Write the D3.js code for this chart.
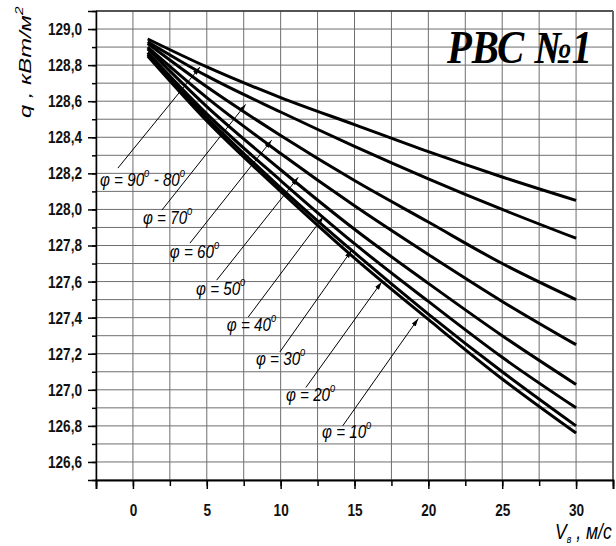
<!DOCTYPE html>
<html>
<head>
<meta charset="utf-8">
<script src="https://cdn.jsdelivr.net/npm/d3@7"></script>
<style>
  body { margin: 0; background: #fff; }
  svg { display: block; }
  .tick text { font-family: "Liberation Sans", Arial, sans-serif; font-weight: bold; font-size: 17px; fill: #111; }
</style>
</head>
<body>
<svg width="616" height="546"></svg>
<script>
// wind speed, m/s
var speed = [1, 5, 10, 15, 20, 25, 30];

// heat flux q, kW/m2, one array per angle phi
var q90_80 = [128.945, 128.79, 128.62, 128.47, 128.32, 128.18, 128.05];
var q70 = [128.93, 128.74, 128.54, 128.35, 128.17, 128.00, 127.84];
var q60 = [128.92, 128.68, 128.41, 128.16, 127.93, 127.70, 127.50];
var q50 = [128.90, 128.62, 128.31, 128.02, 127.75, 127.49, 127.25];
var q40 = [128.89, 128.57, 128.22, 127.89, 127.59, 127.30, 127.03];
var q30 = [128.87, 128.53, 128.16, 127.81, 127.49, 127.18, 126.90];
var q20 = [128.86, 128.51, 128.12, 127.76, 127.42, 127.10, 126.80];
var q10 = [128.85, 128.49, 128.10, 127.73, 127.39, 127.06, 126.76];

// labels: angle text, text position, leader tail and arrow tip (data units)
var angles = [[90, 80], [70], [60], [50], [40], [30], [20], [10]];
var labelPos = [[-2.23, 128.13], [0.68, 127.92], [2.50, 127.73], [4.27, 127.525],
                [6.36, 127.325], [8.33, 127.137], [10.36, 126.937], [12.80, 126.732]];
var tailPos = [[-1.02, 128.229], [1.96, 127.996], [3.86, 127.813], [5.67, 127.608],
               [7.81, 127.404], [9.95, 127.21], [11.71, 127.013], [14.2, 126.80]];
var tipPos = [[4.54, 128.789], [7.63, 128.582], [9.39, 128.384], [11.19, 128.178],
              [12.89, 127.959], [14.81, 127.774], [16.84, 127.598], [19.32, 127.395]];

var xTicks = [0, 5, 10, 15, 20, 25, 30];
var yTicks = [126.6, 126.8, 127.0, 127.2, 127.4, 127.6, 127.8, 128.0, 128.2, 128.4, 128.6, 128.8, 129.0];

var series = [q90_80, q70, q60, q50, q40, q30, q20, q10];

var svg = d3.select("svg"),
    margin = {top: 11, right: 3, bottom: 66, left: 96},
    width = +svg.attr("width") - margin.left - margin.right,
    height = +svg.attr("height") - margin.top - margin.bottom,
    g = svg.append("g").attr("transform", "translate(" + margin.left + "," + margin.top + ")");

var x = d3.scaleLinear().domain([-2.5, 32.5]).range([0, width]);
var y = d3.scaleLinear().domain([126.5, 129.1]).range([height, 0]);

var xMinor = d3.range(0, 15).map(function(i) { return -2.5 + i * 2.5; });
var yMinor = d3.range(0, 27).map(function(i) { return +(126.5 + i * 0.1).toFixed(1); });

var squeeze = 0.8;

// grid
g.append("g").selectAll("line").data(xMinor).enter().append("line")
    .attr("x1", function(d) { return x(d); }).attr("x2", function(d) { return x(d); })
    .attr("y1", 0).attr("y2", height)
    .attr("stroke", "#6e6e6e").attr("stroke-width", 1);
g.append("g").selectAll("line").data(yMinor).enter().append("line")
    .attr("y1", function(d) { return y(d); }).attr("y2", function(d) { return y(d); })
    .attr("x1", 0).attr("x2", width)
    .attr("stroke", "#6e6e6e").attr("stroke-width", 1);

// frame
g.append("line").attr("x1", 0).attr("x2", width).attr("y1", 0).attr("y2", 0)
    .attr("stroke", "#333").attr("stroke-width", 1.5);
g.append("line").attr("x1", width).attr("x2", width).attr("y1", 0).attr("y2", height)
    .attr("stroke", "#666").attr("stroke-width", 2);

var fmt = function(d) { return d3.format(".1f")(d).replace(".", ","); };

// y axis
g.append("g")
    .call(d3.axisLeft(y).tickValues(yMinor).tickSize(4).tickFormat(""))
    .call(function(a) { a.select(".domain").remove(); })
    .selectAll("line").attr("stroke-width", 1.5);
var yAx = g.append("g")
    .call(d3.axisLeft(y).tickValues(yTicks).tickSize(8).tickPadding(6).tickFormat(fmt))
    .call(function(a) { a.select(".domain").attr("stroke-width", 1.5); });
yAx.selectAll("line").attr("stroke-width", 1.5);
yAx.selectAll("text")
    .attr("x", -14 / squeeze)
    .attr("transform", "scale(" + squeeze + ",1)");

// x axis
g.append("g")
    .attr("transform", "translate(0," + height + ")")
    .call(d3.axisBottom(x).tickValues(xMinor).tickSize(6).tickFormat(""))
    .call(function(a) { a.select(".domain").remove(); })
    .selectAll("line").attr("stroke-width", 1.5);
var xAx = g.append("g")
    .attr("transform", "translate(0," + height + ")")
    .call(d3.axisBottom(x).tickValues(xTicks).tickSize(9).tickPadding(15))
    .call(function(a) { a.select(".domain").attr("stroke-width", 2); });
xAx.selectAll("line").attr("stroke-width", 1.5);
xAx.selectAll("text").attr("transform", "scale(" + squeeze + ",1)");

// curves
var line = d3.line()
    .x(function(d, i) { return x(speed[i]); })
    .y(function(d) { return y(d); })
    .curve(d3.curveMonotoneX);

g.append("g").selectAll("path").data(series).enter().append("path")
    .attr("fill", "none")
    .attr("stroke", "#000")
    .attr("stroke-width", 3)
    .attr("stroke-linejoin", "round")
    .attr("d", line);

// arrows
svg.append("defs").append("marker")
    .attr("id", "arr")
    .attr("viewBox", "0 0 10 6")
    .attr("refX", 10).attr("refY", 3)
    .attr("markerWidth", 8).attr("markerHeight", 5)
    .attr("markerUnits", "userSpaceOnUse")
    .attr("orient", "auto")
    .append("path").attr("d", "M0,0L10,3L0,6Z").attr("fill", "#000");

g.append("g").selectAll("line").data(tailPos).enter().append("line")
    .attr("x1", function(d) { return x(d[0]); })
    .attr("y1", function(d) { return y(d[1]); })
    .attr("x2", function(d, i) { return x(tipPos[i][0]); })
    .attr("y2", function(d, i) { return y(tipPos[i][1]); })
    .attr("stroke", "#000").attr("stroke-width", 1)
    .attr("marker-end", "url(#arr)");

// phi labels
var labels = g.append("g").selectAll("text").data(angles).enter().append("text")
    .attr("transform", function(d, i) {
        return "translate(" + x(labelPos[i][0]) + "," + y(labelPos[i][1]) + ") scale(" + squeeze + ",1)";
    })
    .attr("font-family", "'Liberation Sans', Arial, sans-serif")
    .attr("font-style", "italic")
    .attr("font-size", 19)
    .attr("fill", "#000");

labels.each(function(d) {
    var t = d3.select(this);
    t.append("tspan").text("\u03c6 = " + d[0]);
    t.append("tspan").attr("dy", -9).attr("font-size", 12).text("o");
    if (d.length > 1) {
        t.append("tspan").attr("dy", 9).text(" - " + d[1]);
        t.append("tspan").attr("dy", -9).attr("font-size", 12).text("o");
    }
});

// title
svg.append("text")
    .attr("x", 447).attr("y", 63)
    .attr("font-family", "'Liberation Serif', 'Times New Roman', serif")
    .attr("font-weight", "bold").attr("font-style", "italic")
    .attr("font-size", 46)
    .attr("textLength", 145).attr("lengthAdjust", "spacingAndGlyphs")
    .text("РВС №1");

// y axis title
var yt = svg.append("text")
    .attr("transform", "translate(31,118) rotate(-90) scale(1.4,1)")
    .attr("font-family", "'Liberation Sans', Arial, sans-serif")
    .attr("font-style", "italic")
    .attr("font-size", 17)
    .attr("fill", "#000");
yt.append("tspan").text("q , кВт/м");
yt.append("tspan").attr("dy", -8).attr("font-size", 11).text("2");

// x axis title
var xt = svg.append("text")
    .attr("transform", "translate(555,539) scale(" + squeeze + ",1)")
    .attr("font-family", "'Liberation Sans', Arial, sans-serif")
    .attr("font-style", "italic")
    .attr("font-size", 22)
    .attr("fill", "#000");
xt.append("tspan").text("V");
xt.append("tspan").attr("dy", 4).attr("font-size", 11).text("в");
xt.append("tspan").attr("dy", -4).text(" , м/с");
</script>
</body>
</html>
